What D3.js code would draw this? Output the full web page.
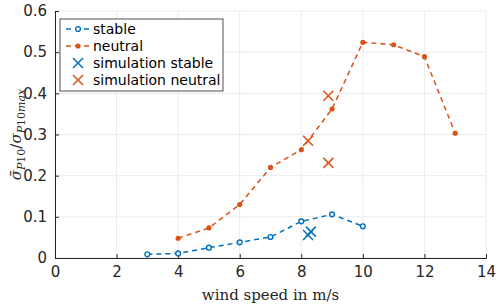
<!DOCTYPE html>
<html>
<head>
<meta charset="utf-8">
<script src="https://cdn.jsdelivr.net/npm/d3@7"></script>
<style>
  body { margin: 0; background: #fff; }
  #chart { width: 500px; height: 306px; }
</style>
</head>
<body>
<div id="chart"></div>
<script>
// dane
const windStable = [3, 4, 5, 6, 7, 8, 9, 10];
const sigmaStable = [0.009, 0.011, 0.025, 0.038, 0.051, 0.089, 0.106, 0.077];
const windNeutral = [4, 5, 6, 7, 8, 9, 10, 11, 12, 13];
const sigmaNeutral = [0.048, 0.073, 0.130, 0.220, 0.263, 0.362, 0.524, 0.518, 0.489, 0.303];
const simStableX = [8.22, 8.31];
const simStableY = [0.056, 0.064];
const simNeutralX = [8.22, 8.88, 8.88];
const simNeutralY = [0.285, 0.394, 0.231];
const xTicks = [0, 2, 4, 6, 8, 10, 12, 14];
const yTicks = [0, 0.1, 0.2, 0.3, 0.4, 0.5, 0.6];

const blue = "#0072BD";
const orange = "#D95319";

const W = 500, H = 306;
const margin = { top: 11, right: 14, bottom: 48, left: 55 };
const width = W - margin.left - margin.right;
const height = H - margin.top - margin.bottom;

const svg = d3.select("#chart").append("svg")
    .attr("width", W)
    .attr("height", H);
const g = svg.append("g")
    .attr("transform", `translate(${margin.left},${margin.top})`);

const x = d3.scaleLinear().domain([0, 14]).range([0, width]);
const y = d3.scaleLinear().domain([0, 0.6]).range([height, 0]);

// siatka
g.append("g").selectAll("line").data(xTicks).join("line")
    .attr("x1", d => x(d)).attr("x2", d => x(d))
    .attr("y1", 0).attr("y2", height)
    .attr("stroke", "#ebebeb").attr("stroke-width", 1);
g.append("g").selectAll("line").data(yTicks).join("line")
    .attr("x1", 0).attr("x2", width)
    .attr("y1", d => y(d)).attr("y2", d => y(d))
    .attr("stroke", "#ebebeb").attr("stroke-width", 1);

// osie
const xAxis = g.append("g")
    .attr("transform", `translate(0,${height})`)
    .call(d3.axisBottom(x).tickValues(xTicks).tickSize(-4).tickPadding(8).tickFormat(d3.format("d")));
const yAxis = g.append("g")
    .call(d3.axisLeft(y).tickValues(yTicks).tickSize(-4).tickPadding(8).tickFormat(d => d === 0 ? "0" : d3.format(".1f")(d)));
[xAxis, yAxis].forEach(a => {
    a.select(".domain").attr("stroke", "#262626");
    a.selectAll(".tick line").attr("stroke", "#262626");
    a.selectAll("text")
        .attr("fill", "#262626")
        .style("font-family", "'DejaVu Sans', sans-serif")
        .style("font-size", "15px");
});

const line = d3.line().x(d => x(d[0])).y(d => y(d[1]));

const stable = windStable.map((w, i) => [w, sigmaStable[i]]);
const neutral = windNeutral.map((w, i) => [w, sigmaNeutral[i]]);

g.append("path").datum(neutral)
    .attr("d", line).attr("fill", "none")
    .attr("stroke", orange).attr("stroke-width", 1.5)
    .attr("stroke-dasharray", "5,4");
g.append("path").datum(stable)
    .attr("d", line).attr("fill", "none")
    .attr("stroke", blue).attr("stroke-width", 1.5)
    .attr("stroke-dasharray", "5,4");

g.selectAll(".pt-neutral").data(neutral).join("circle")
    .attr("class", "pt-neutral")
    .attr("cx", d => x(d[0])).attr("cy", d => y(d[1]))
    .attr("r", 2.6).attr("fill", orange);
g.selectAll(".pt-stable").data(stable).join("circle")
    .attr("class", "pt-stable")
    .attr("cx", d => x(d[0])).attr("cy", d => y(d[1]))
    .attr("r", 2.4).attr("fill", "#fff")
    .attr("stroke", blue).attr("stroke-width", 1.4);

const cross = (sel, cx, cy, color, s) => {
    sel.append("path")
        .attr("d", `M${cx - s},${cy - s}L${cx + s},${cy + s}M${cx - s},${cy + s}L${cx + s},${cy - s}`)
        .attr("stroke", color).attr("stroke-width", 1.5).attr("fill", "none");
};
simStableX.forEach((v, i) => cross(g, x(v), y(simStableY[i]), blue, 5));
simNeutralX.forEach((v, i) => cross(g, x(v), y(simNeutralY[i]), orange, 5));

// etykiety osi
svg.append("text")
    .attr("x", margin.left + width / 2)
    .attr("y", 300)
    .attr("text-anchor", "middle")
    .style("font-family", "'DejaVu Serif', 'Liberation Serif', serif")
    .style("font-size", "15px")
    .attr("fill", "#262626")
    .text("wind speed in m/s");

const yl = svg.append("text")
    .attr("transform", `translate(21,${margin.top + height / 2}) rotate(-90)`)
    .attr("text-anchor", "middle")
    .style("font-family", "'DejaVu Serif', 'Liberation Serif', serif")
    .style("font-size", "15px")
    .attr("fill", "#262626");
yl.append("tspan").style("font-style", "italic").text("σ̄");
yl.append("tspan").attr("dy", 4).style("font-size", "11px").style("font-style", "italic").text("P");
yl.append("tspan").style("font-size", "11px").text("10");
yl.append("tspan").attr("dy", -4).text("/");
yl.append("tspan").style("font-style", "italic").text("σ");
yl.append("tspan").attr("dy", 4).style("font-size", "11px").style("font-style", "italic").text("P");
yl.append("tspan").style("font-size", "11px").text("10");
yl.append("tspan").style("font-size", "11px").style("font-style", "italic").text("max");

// legenda
const legend = svg.append("g").attr("transform", "translate(60,19)");
legend.append("rect")
    .attr("width", 163).attr("height", 72)
    .attr("fill", "#fff").attr("stroke", "#262626").attr("stroke-width", 0.8);
const items = [
    { label: "stable", color: blue, type: "stable" },
    { label: "neutral", color: orange, type: "neutral" },
    { label: "simulation stable", color: blue, type: "x" },
    { label: "simulation neutral", color: orange, type: "x" }
];
items.forEach((it, i) => {
    const cy = 10 + i * 17;
    if (it.type !== "x") {
        legend.append("line")
            .attr("x1", 6).attr("x2", 30).attr("y1", cy).attr("y2", cy)
            .attr("stroke", it.color).attr("stroke-width", 1.5)
            .attr("stroke-dasharray", "5,4");
        legend.append("circle")
            .attr("cx", 18).attr("cy", cy)
            .attr("r", it.type === "stable" ? 2.4 : 2.6)
            .attr("fill", it.type === "stable" ? "#fff" : it.color)
            .attr("stroke", it.type === "stable" ? it.color : "none")
            .attr("stroke-width", 1.4);
    } else {
        cross(legend, 18, cy, it.color, 5);
    }
    legend.append("text")
        .attr("x", 33).attr("y", cy)
        .attr("dy", "0.35em")
        .style("font-family", "'DejaVu Sans', sans-serif")
        .style("font-size", "14px")
        .attr("fill", "#000")
        .text(it.label);
});
</script>
</body>
</html>
